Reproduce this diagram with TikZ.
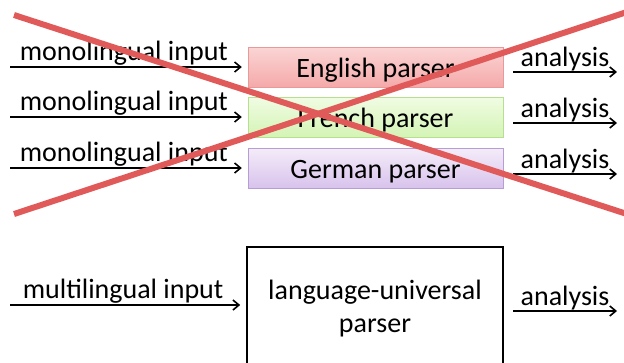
\documentclass[tikz,border=0pt]{standalone}
\usepackage{fontspec}
\setmainfont{Carlito}
\usepackage{xcolor}
\usepackage{tikz}
\usetikzlibrary{positioning}
\usetikzlibrary{arrows.meta}

% box shadings
\definecolor{enTop}{HTML}{FBD5D5}
\definecolor{enBot}{HTML}{F5A9A9}
\definecolor{enEdge}{HTML}{E89A9A}
\definecolor{frTop}{HTML}{F0FCE3}
\definecolor{frBot}{HTML}{D4F4B5}
\definecolor{frEdge}{HTML}{B6DF90}
\definecolor{deTop}{HTML}{F4ECF9}
\definecolor{deBot}{HTML}{D8C3EC}
\definecolor{deEdge}{HTML}{B79CD6}
\definecolor{crossred}{HTML}{E05A5A}

\begin{document}
\begin{tikzpicture}[x=1pt, y=-1pt, font=\fontsize{28}{33}\selectfont,
		flow/.style={-{Straight Barb[length=6pt,width=10pt]}, line width=1.6pt},
		parserbox/.style={minimum width=255pt, minimum height=40pt, inner sep=0pt,
				text height=21pt, text depth=0pt},
		lbl/.style={above, inner sep=0pt, yshift=0.5pt}]
		\clip (0,0) rectangle (624,362);

		% One parser per language
		\foreach \name/\lang/\y/\oy in {en/English/67/72, fr/French/117/123, de/German/168/174} {
				\node[parserbox, draw=\name Edge, top color=\name Top, bottom color=\name Bot]
					(\name) at (375.5,\y) {\lang{} parser};
				\coordinate (\name-in) at (10,\y);
				\draw[flow, shorten >=6pt] (\name-in) -- node[lbl, xshift=-5pt] {monolingual input} (\name);
				\coordinate (\name-out) at (513,\oy);
				\coordinate (\name-res) at (617,\oy);
				\draw[flow] (\name-out) -- node[lbl] {analysis} (\name-res);
			}

		% Crossed out
		\coordinate (c1) at (14,15);
		\coordinate (c2) at (630,215);
		\coordinate (c3) at (14,214);
		\coordinate (c4) at (630,11);
		\draw[crossred, line width=6pt] (c1) -- (c2);
		\draw[crossred, line width=6pt] (c3) -- (c4);

		% Single parser for all languages
		\node[draw, line width=1.6pt, minimum width=256pt, minimum height=124pt, align=center]
			(uni) at (375,309) {language-universal\\parser};
		\coordinate (uni-in) at (10,305);
		\draw[flow, shorten >=6pt] (uni-in) -- (uni.west |- uni-in) node[midway, lbl, xshift=-5pt] {multilingual input};
		\coordinate (uni-out) at (513,311);
		\coordinate (uni-res) at (617,311);
		\draw[flow] (uni-out) -- node[lbl] {analysis} (uni-res);
	\end{tikzpicture}
\end{document}
